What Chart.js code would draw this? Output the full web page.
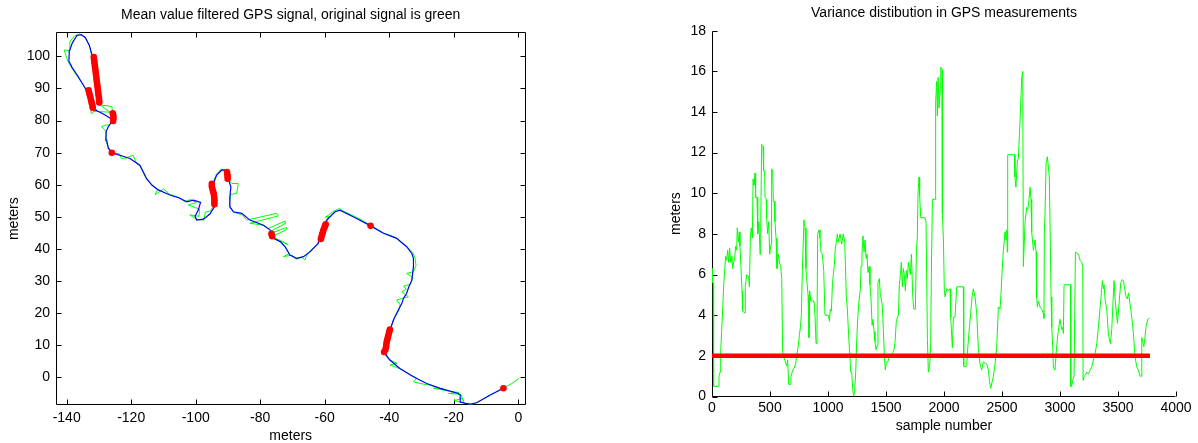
<!DOCTYPE html>
<html>
<head>
<meta charset="utf-8">
<script src="https://cdn.jsdelivr.net/npm/chart.js@4.4.1/dist/chart.umd.min.js"></script>
<style>
  html, body { margin: 0; padding: 0; background: #fff; }
  body { width: 1198px; height: 443px; position: relative; overflow: hidden; }
  .panel { position: absolute; top: 0; height: 443px; }
  #left { left: 0; width: 545px; }
  #right { left: 660px; width: 538px; }
</style>
</head>
<body>
<div class="panel" id="left"><canvas id="trackChart"></canvas></div>
<div class="panel" id="right"><canvas id="varChart"></canvas></div>
<script>
// ---- left panel: GPS track, meters [x, y] ----
const rawTrack = [
  [0.2,-0.3],[-2.0,-1.9],[-4.6,-3.3],[-8.5,-5.4],[-12.8,-7.8],[-14.8,-8.5],[-15.8,-8.2],[-19.8,-7.2],
  [-17.5,-6.6],[-16.9,-7.6],[-17.8,-5.3],[-21.6,-5.0],[-18.5,-4.7],[-23.0,-4.0],[-26.3,-3.3],[-22.7,-3.8],
  [-27.5,-2.4],[-29.4,-2.1],[-32.5,-1.4],[-31.5,-0.2],[-33.5,0.8],[-36.0,2.4],[-38.2,3.3],[-39.8,3.8],
  [-37.6,4.4],[-40.2,5.6],[-41.8,7.6],[-41.0,9.6],[-40.5,12.0],[-40.1,14.2],[-39.3,16.0],[-38.3,18.8],
  [-37.0,20.8],[-36.6,22.6],[-37.7,24.1],[-34.1,25.1],[-36.1,26.7],[-34.7,27.4],[-35.6,28.4],[-33.5,29.0],
  [-32.6,31.0],[-34.6,32.4],[-32.5,32.9],[-31.7,34.8],[-32.0,37.2],[-32.8,39.0],[-34.8,41.0],[-36.5,42.2],
  [-38.0,43.6],[-41.8,45.0],[-45.8,47.4],[-50.0,49.8],[-53.8,51.6],[-55.5,52.6],[-57.2,51.8],[-59.9,49.8],
  [-58.8,50.2],[-60.5,47.2],[-61.3,44.0],[-62.2,41.6],[-63.6,40.2],[-64.6,39.4],[-65.6,38.1],[-66.1,36.6],
  [-67.1,37.4],[-69.0,36.8],[-70.2,38.1],[-72.8,37.6],[-71.0,38.6],[-72.0,40.4],[-73.8,42.6],[-71.3,41.3],
  [-74.5,43.0],[-76.0,43.6],[-77.0,43.5],[-71.8,46.1],[-71.8,46.7],[-77.5,44.6],[-77.0,45.4],[-72.1,48.0],
  [-72.3,48.7],[-77.5,46.4],[-79.0,47.4],[-83.2,48.0],[-74.4,50.3],[-74.9,51.1],[-84.2,49.0],[-85.5,50.6],
  [-88.2,51.4],[-89.6,53.5],[-89.2,57.0],[-87.3,57.3],[-86.8,60.4],[-88.8,60.4],[-89.5,61.2],[-90.0,63.5],
  [-90.8,64.8],[-92.2,64.8],[-93.6,63.2],[-94.8,60.2],[-94.4,57.0],[-94.6,53.4],[-95.4,51.8],[-97.0,51.5],
  [-97.5,49.0],[-99.7,49.2],[-101.8,50.6],[-99.0,50.2],[-98.8,52.4],[-102.3,53.7],[-99.8,54.5],[-101.5,55.4],
  [-103.5,54.8],[-105.0,56.0],[-108.0,57.0],[-110.0,58.7],[-112.6,56.9],[-111.8,58.5],[-113.6,60.0],[-115.4,62.0],
  [-117.2,65.8],[-118.3,66.6],[-119.4,69.2],[-121.5,68.4],[-123.0,68.2],[-123.7,69.6],[-126.1,70.2],[-127.0,71.6],
  [-128.0,74.0],[-127.6,76.5],[-129.2,78.1],[-128.1,78.6],[-126.8,78.6],[-125.4,80.2],[-126.0,84.4],[-129.7,84.9],
  [-126.5,82.6],[-131.8,82.9],[-130.7,83.4],[-132.2,82.2],[-132.4,85.2],[-133.4,88.4],[-134.8,91.0],[-136.6,93.6],
  [-138.4,96.4],[-139.6,98.4],[-140.8,102.0],[-139.2,101.8],[-139.0,104.7],[-137.5,106.4],[-136.0,107.0],[-134.4,106.0],
  [-133.0,103.6],[-132.2,100.0],[-131.4,96.0],[-130.8,92.0],[-130.2,88.4],[-129.6,85.6]
];

const filteredTrack = [
  [-4.6,-3.4],[-8.7,-5.5],[-12.9,-7.9],[-14.9,-8.3],[-16.5,-8.1],[-17.8,-7.7],[-18.0,-5.5],[-18.6,-5.0],
  [-24.2,-3.4],[-28.4,-1.9],[-32.5,0.2],[-36.7,2.8],[-39.8,5.4],[-41.3,7.5],[-40.8,9.5],[-40.3,13.7],
  [-39.8,14.7],[-38.7,17.9],[-37.2,21.0],[-36.1,23.0],[-35.6,24.6],[-34.6,26.2],[-34.0,28.0],[-33.0,30.3],
  [-32.5,34.5],[-32.5,37.1],[-33.0,38.6],[-34.6,40.7],[-37.7,43.3],[-41.8,44.9],[-45.8,47.2],[-50.1,49.5],
  [-55.3,52.1],[-56.8,51.6],[-58.9,49.5],[-60.4,47.4],[-61.4,43.8],[-62.0,41.7],[-64.6,39.1],[-66.6,37.6],
  [-68.7,37.1],[-70.8,38.1],[-72.3,40.7],[-73.8,42.3],[-75.9,43.3],[-76.9,45.9],[-79.0,47.4],[-83.2,49.0],
  [-85.7,51.1],[-88.3,51.6],[-89.4,53.1],[-89.4,56.3],[-89.1,59.4],[-89.6,60.9],[-90.1,63.0],[-90.7,64.4],
  [-91.9,64.6],[-93.5,63.0],[-94.5,60.4],[-94.5,57.3],[-94.2,53.1],[-95.6,50.9],[-97.6,49.3],[-99.7,49.0],
  [-100.2,50.2],[-99.2,52.1],[-98.5,54.5],[-100.7,55.2],[-102.8,54.7],[-104.9,55.8],[-108.0,56.8],[-111.6,58.4],
  [-113.6,59.9],[-115.2,61.9],[-117.3,66.1],[-120.4,68.2],[-123.5,69.2],[-126.1,70.0],[-127.1,71.4],[-127.6,73.9],
  [-127.8,76.5],[-127.1,78.1],[-125.6,80.2],[-128.5,82.0],[-131.5,83.5],[-132.5,85.5],[-133.3,88.5],[-134.8,91.0],
  [-136.5,93.8],[-138.3,96.5],[-139.3,98.5],[-139.2,101.5],[-138.2,104.3],[-136.8,106.5],[-135.5,106.8],[-134.2,105.8],
  [-133.0,103.5],[-132.0,100.0],[-131.3,96.0],[-130.6,92.0],[-130.0,88.5],[-129.5,85.5]
];

// samples flagged red (variance below the limit)
const stillPoints = [
  [-4.6,-3.4],
  [-41.6,7.9],[-41.2,8.6],[-41.0,9.4],[-40.9,10.2],[-40.8,11.0],[-40.6,11.8],[-40.4,12.6],[-40.2,13.4],[-40.0,14.2],[-39.8,14.9],
  [-45.8,47.2],
  [-61.2,43.1],[-61.0,43.8],[-60.8,44.5],[-60.6,45.2],[-60.4,45.9],[-60.1,46.6],[-59.9,47.2],[-59.7,47.7],
  [-76.3,44.0],[-76.5,44.7],
  [-95.0,60.3],[-95.0,59.5],[-94.8,58.7],[-94.6,57.9],[-94.4,57.1],[-94.3,56.3],[-94.2,55.5],[-94.2,54.7],[-94.2,53.9],
  [-90.3,64.0],[-90.2,63.3],[-90.1,62.6],[-90.1,61.9],
  [-126.0,70.0],
  [-125.6,79.9],[-125.5,80.7],[-125.5,81.5],[-125.7,82.3],
  [-133.2,89.4],[-133.0,88.6],[-132.8,87.8],[-132.6,87.0],[-132.4,86.2],[-132.2,85.4],[-132.0,84.6],[-131.9,84.0],
  [-131.6,99.8],[-131.5,99.0],[-131.4,98.2],[-131.3,97.4],[-131.2,96.6],[-131.1,95.8],[-131.0,95.0],[-130.9,94.2],
  [-130.8,93.4],[-130.7,92.6],[-130.6,91.8],[-130.5,91.0],[-130.4,90.2],[-130.3,89.4],[-130.2,88.6],[-130.1,87.8],
  [-130.0,87.0],[-129.9,86.2],[-129.9,85.6]
];

const trackXTicks = [-140, -120, -100, -80, -60, -40, -20, 0];
const trackYTicks = [0, 10, 20, 30, 40, 50, 60, 70, 80, 90, 100];

// ---- right panel: variance per sample [sample, meters] ----
const varSamples = [
  [0,6.3],[3,5.6],[11,5.6],[14,0.5],[57,0.5],[60,1.0],[69,1.2],[75,2.2],[83,3.2],[92,4.3],[101,5.5],[109,6.2],
  [118,6.9],[126,6.7],[135,7.2],[144,6.6],[152,7.3],[161,6.6],[172,6.9],[178,6.3],[187,6.6],[195,6.8],[204,7.4],
  [213,7.2],[218,8.3],[227,7.6],[236,8.1],[241,7.4],[250,6.3],[259,5.2],[264,4.2],[285,4.1],[287,5.4],[299,6.0],
  [316,5.9],[322,5.4],[331,7.9],[339,8.3],[348,7.8],[354,10.7],[362,10.4],[371,11.0],[376,9.8],[388,9.8],[394,8.0],
  [405,8.6],[414,7.0],[420,8.5],[428,12.4],[440,12.3],[445,11.1],[454,11.1],[457,9.8],[468,9.7],[471,8.8],[480,8.0],
  [489,8.6],[497,7.0],[509,7.5],[514,11.2],[523,11.1],[529,9.6],[537,9.6],[543,8.6],[552,7.8],[560,6.3],[572,7.0],
  [581,6.6],[592,6.4],[601,5.8],[609,2.2],[621,1.9],[629,1.9],[644,1.5],[652,1.8],[661,0.6],[673,0.6],[681,1.0],
  [696,1.3],[707,1.4],[721,1.6],[733,2.1],[744,2.5],[753,3.0],[762,3.4],[770,4.0],[779,6.2],[793,8.7],[802,8.3],
  [810,6.3],[819,5.6],[828,5.0],[836,2.9],[842,5.2],[851,4.7],[879,4.7],[888,4.0],[897,2.6],[905,3.2],[911,8.0],
  [923,8.2],[931,7.8],[940,7.1],[951,7.0],[963,6.2],[974,4.0],[1003,4.0],[1012,3.7],[1020,4.3],[1029,4.2],[1038,5.5],
  [1046,6.0],[1055,6.5],[1063,7.3],[1072,7.6],[1081,8.0],[1089,7.6],[1104,8.0],[1118,7.5],[1132,8.0],[1144,7.6],
  [1150,6.5],[1158,4.9],[1167,4.3],[1178,3.0],[1187,2.1],[1196,1.2],[1204,1.2],[1213,0.4],[1221,0.0],[1230,0.3],
  [1239,1.2],[1247,2.7],[1256,3.8],[1267,4.7],[1279,5.3],[1285,6.4],[1293,7.0],[1302,7.9],[1311,7.1],[1319,7.7],
  [1328,6.8],[1336,7.0],[1345,6.1],[1354,6.4],[1362,5.5],[1371,4.8],[1380,3.5],[1388,3.8],[1397,3.2],[1405,2.7],
  [1414,2.3],[1423,2.5],[1431,5.6],[1443,5.8],[1451,5.0],[1460,4.8],[1469,4.4],[1477,3.3],[1486,2.0],[1494,1.3],
  [1503,1.7],[1515,1.7],[1526,1.9],[1540,2.0],[1555,2.1],[1569,2.3],[1578,2.7],[1589,3.7],[1598,3.9],[1607,4.0],
  [1615,5.5],[1624,6.0],[1632,6.6],[1641,5.4],[1650,6.3],[1658,6.0],[1667,5.2],[1676,6.2],[1684,5.8],[1693,6.6],
  [1701,6.3],[1710,6.0],[1719,7.0],[1730,5.0],[1739,4.3],[1753,4.3],[1762,7.2],[1770,7.8],[1776,10.0],[1785,10.8],
  [1790,9.9],[1799,8.8],[1836,8.8],[1845,8.6],[1857,2.8],[1865,1.2],[1877,1.6],[1885,2.5],[1891,6.0],[1900,9.7],
  [1923,9.7],[1928,14.5],[1937,15.5],[1943,13.8],[1949,15.7],[1957,14.2],[1966,15.0],[1972,16.2],[1983,16.1],
  [1986,9.0],[1995,7.7],[2003,5.2],[2009,4.9],[2023,5.3],[2038,5.2],[2052,5.3],[2058,3.9],[2072,2.4],[2081,3.9],
  [2095,3.9],[2110,5.4],[2124,5.4],[2167,5.4],[2170,1.5],[2176,1.45],[2196,1.5],[2201,2.1],[2219,3.4],[2230,4.1],
  [2242,4.9],[2253,5.3],[2268,4.9],[2282,4.1],[2296,2.4],[2311,1.6],[2325,1.3],[2339,1.7],[2368,1.6],[2383,1.3],
  [2391,0.8],[2403,0.4],[2414,0.7],[2426,1.0],[2440,1.6],[2454,2.4],[2469,4.4],[2483,4.3],[2492,5.1],[2500,6.1],
  [2512,7.2],[2526,8.1],[2535,7.7],[2541,8.2],[2546,7.1],[2549,11.9],[2607,11.9],[2612,10.8],[2620,10.3],[2633,11.6],
  [2641,11.7],[2656,13.6],[2670,15.7],[2679,16.0],[2681,16.0],[2684,6.4],[2699,8.6],[2713,9.3],[2722,9.2],[2733,9.7],
  [2742,10.3],[2750,9.7],[2756,8.1],[2771,7.2],[2785,7.7],[2794,7.1],[2799,4.9],[2805,4.4],[2814,4.7],[2828,4.4],
  [2842,4.3],[2857,4.1],[2862,3.85],[2865,8.1],[2871,9.0],[2880,11.5],[2891,11.8],[2900,11.3],[2908,10.8],[2914,8.5],
  [2923,4.9],[2929,3.4],[2937,2.45],[2943,1.45],[2957,1.3],[2966,2.1],[2977,2.8],[2989,3.4],[3000,3.8],[3015,3.3],
  [3023,3.4],[3029,3.1],[3035,5.5],[3090,5.5],[3093,0.5],[3101,0.5],[3110,0.8],[3121,1.0],[3133,7.1],[3159,7.0],
  [3173,6.7],[3187,6.6],[3196,6.4],[3199,0.8],[3208,1.0],[3219,1.05],[3231,1.2],[3245,1.1],[3259,1.3],[3274,1.45],
  [3288,1.8],[3302,2.1],[3317,2.6],[3331,3.4],[3346,4.4],[3354,4.9],[3365,5.7],[3374,5.3],[3380,5.5],[3388,4.8],
  [3403,4.3],[3417,3.1],[3426,2.8],[3434,2.6],[3446,3.3],[3455,4.4],[3466,5.7],[3475,4.8],[3483,4.3],[3495,3.6],
  [3512,4.8],[3524,5.6],[3535,5.75],[3547,5.7],[3561,5.2],[3570,4.9],[3581,4.8],[3590,5.1],[3598,4.8],[3610,4.3],
  [3621,3.8],[3633,3.1],[3639,2.6],[3647,1.95],[3662,1.45],[3676,1.3],[3690,1.0],[3699,1.0],[3705,2.9],[3713,2.7],
  [3723,2.45],[3732,2.9],[3741,3.4],[3756,3.8],[3771,3.85]
];
const varLimit = [[0, 2], [3776, 2]];

const sampleTicks = [0, 500, 1000, 1500, 2000, 2500, 3000, 3500, 4000];
const varTicks = [0, 2, 4, 6, 8, 10, 12, 14, 16, 18];

const FONT = "'Liberation Sans', Arial, Helvetica, sans-serif";
const font = size => ({ family: FONT, size: size, weight: "normal" });
const pts = arr => arr.map(p => ({ x: p[0], y: p[1] }));

// matlab style axes: lines plus inward tick marks
const axisFrame = {
  id: "axisFrame",
  beforeDatasetsDraw(chart, args, opts) {
    const { ctx, chartArea: a } = chart;
    const xs = chart.scales.x, ys = chart.scales.y;
    const len = opts.tick || 5;
    const L = Math.round(a.left) + 0.5, R = Math.round(a.right) - 0.5;
    const T = Math.round(a.top) + 0.5, B = Math.round(a.bottom) - 0.5;
    ctx.save();
    ctx.strokeStyle = "#000";
    ctx.lineWidth = 1;
    ctx.beginPath();
    ctx.moveTo(L, T); ctx.lineTo(L, B); ctx.lineTo(R, B);
    if (opts.box) { ctx.lineTo(R, T); ctx.lineTo(L, T); }
    xs.ticks.forEach(t => {
      const x = Math.round(xs.getPixelForValue(t.value)) + 0.5;
      ctx.moveTo(x, B); ctx.lineTo(x, B - len);
      if (opts.box) { ctx.moveTo(x, T); ctx.lineTo(x, T + len); }
    });
    ys.ticks.forEach(t => {
      const y = Math.round(ys.getPixelForValue(t.value)) + 0.5;
      ctx.moveTo(L, y); ctx.lineTo(L + len, y);
      if (opts.box) { ctx.moveTo(R, y); ctx.lineTo(R - len, y); }
    });
    ctx.stroke();
    ctx.restore();
  }
};

function axis(min, max, tickValues, title, o) {
  return {
    type: "linear",
    min: min,
    max: max,
    grid: { display: false, drawTicks: false },
    border: { display: false },
    afterBuildTicks: s => { s.ticks = tickValues.map(v => ({ value: v })); },
    afterFit: s => { if (o.width !== undefined) s.width = o.width; if (o.height !== undefined) s.height = o.height; },
    ticks: { color: "#000", font: font(14), padding: o.pad, maxRotation: 0, autoSkip: false, callback: v => String(v) },
    title: { display: true, text: title, color: "#000", font: font(14), padding: o.titlePad }
  };
}

function baseOptions(titleText, titlePad, rightPad) {
  return {
    responsive: true,
    maintainAspectRatio: false,
    animation: false,
    devicePixelRatio: 1,
    layout: { padding: { left: 0, right: rightPad, top: 0, bottom: 0 } },
    plugins: {
      legend: { display: false },
      tooltip: { enabled: false },
      // fullSize false -> centred over the plot box, like matlab
      title: { display: true, fullSize: false, text: titleText, color: "#000", font: font(14), padding: titlePad }
    }
  };
}

const trackOpts = baseOptions("Mean value filtered GPS signal, original signal is green", { top: 7, bottom: 8.5 }, 19.3);
trackOpts.scales = {
  x: axis(-143.4, 2.3, trackXTicks, "meters", { height: 38, pad: 4.6, titlePad: { top: 0, bottom: -2 } }),
  y: axis(-8.6, 107.5, trackYTicks, "meters", { width: 55.7, pad: 5.7, titlePad: { top: 5.6, bottom: 0 } })
};
trackOpts.plugins.axisFrame = { box: true, tick: 5 };

new Chart(document.getElementById("trackChart"), {
  type: "scatter",
  data: {
    datasets: [
      { label: "stationary", data: pts(stillPoints), order: 0, showLine: false,
        pointRadius: 3.3, pointBackgroundColor: "#ff0000", pointBorderWidth: 0 },
      { label: "filtered", data: pts(filteredTrack), order: 1, showLine: true,
        borderColor: "#0000ff", borderWidth: 1.2, pointRadius: 0, tension: 0 },
      { label: "original", data: pts(rawTrack), order: 2, showLine: true,
        borderColor: "#00ff00", borderWidth: 1, pointRadius: 0, tension: 0 }
    ]
  },
  options: trackOpts,
  plugins: [axisFrame]
});

const varOpts = baseOptions("Variance distibution in GPS measurements", { top: 5, bottom: 8.9 }, 22);
varOpts.scales = {
  x: axis(0, 4000, sampleTicks, "sample number", { height: 46.5, pad: 3.6, titlePad: { top: 0, bottom: 8.3 } }),
  y: axis(0, 18, varTicks, "meters", { width: 52, pad: 6, titlePad: { top: 7.6, bottom: 0 } })
};
varOpts.plugins.axisFrame = { box: false, tick: 5 };

new Chart(document.getElementById("varChart"), {
  type: "scatter",
  data: {
    datasets: [
      { label: "limit", data: pts(varLimit), order: 0, showLine: true,
        borderColor: "#ff0000", borderWidth: 4.5, pointRadius: 0, borderCapStyle: "butt" },
      { label: "variance", data: pts(varSamples), order: 1, showLine: true,
        borderColor: "#00ff00", borderWidth: 1, pointRadius: 0, tension: 0 }
    ]
  },
  options: varOpts,
  plugins: [axisFrame]
});
</script>
</body>
</html>
